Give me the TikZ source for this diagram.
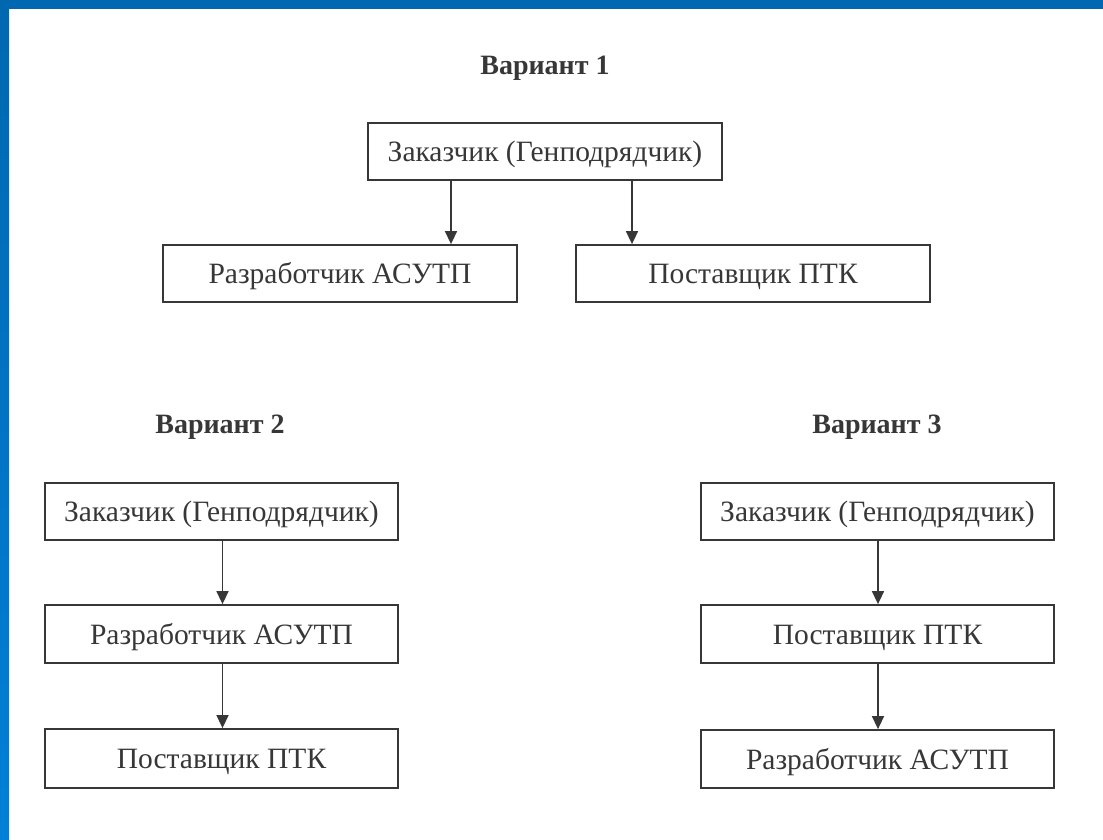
\documentclass[tikz,border=0pt]{standalone}
\usepackage{fontspec}
\setmainfont{Liberation Serif}
\usetikzlibrary{arrows.meta,calc}
\definecolor{frameblue}{RGB}{0,104,176}
\definecolor{framelight}{RGB}{0,128,216}
\definecolor{ink}{RGB}{55,55,55}
\tikzset{
  unitbox/.style={draw=ink, line width=1.8pt, fill=white, text=ink, inner sep=0pt,
    text height=20pt, text depth=0pt,
    font=\fontsize{29.5}{33}\selectfont},
  heading/.style={text=ink, font=\fontsize{28}{32}\selectfont\bfseries, inner sep=0pt,
    text height=18pt, text depth=0pt},
  link/.style={draw=ink, line width=1.5pt, -{Triangle[length=13pt,width=12pt]}}
}
% place a box from its top-left and bottom-right corners (pixel grid, y downwards)
\newcommand{\unit}[6]{%
  \node[unitbox, minimum width={#4-#2}, minimum height={#5-#3}]
    (#1) at ({(#2+#4)/2},{(#3+#5)/2}) {#6};}
\begin{document}
\begin{tikzpicture}[x=1pt,y=-1pt]
  \useasboundingbox (0,0) rectangle (1103,839);
  \fill[white] (0,0) rectangle (1103,839);
  % blue frame
  \shade[top color=frameblue, bottom color=framelight] (0,0) rectangle (9,839);
  \fill[frameblue] (0,0) rectangle (1103,9);

  % ---- Variant 1 ----
  \node[heading] (h1) at (545,65) {Вариант 1};
  \unit{a1}{368}{123}{722}{180}{Заказчик (Генподрядчик)}
  \unit{b1}{163}{245}{517}{302}{Разработчик АСУТП}
  \unit{c1}{576}{245}{930}{302}{Поставщик ПТК}
  \coordinate (p1) at (451,0);
  \coordinate (p2) at (632,0);
  \draw[link] (a1.south -| p1) -- (b1.north -| p1);
  \draw[link] (a1.south -| p2) -- (c1.north -| p2);

  % ---- Variant 2 ----
  \node[heading] (h2) at (220,424) {Вариант 2};
  \unit{a2}{45}{483}{398}{540}{Заказчик (Генподрядчик)}
  \unit{b2}{45}{605}{398}{663}{Разработчик АСУТП}
  \unit{c2}{45}{729}{398}{788}{Поставщик ПТК}
  \coordinate (q1) at (222.5,0);
  \draw[link] (a2.south -| q1) -- (b2.north -| q1);
  \draw[link] (b2.south -| q1) -- (c2.north -| q1);

  % ---- Variant 3 ----
  \node[heading] (h3) at (877,424) {Вариант 3};
  \unit{a3}{701}{483}{1054}{540}{Заказчик (Генподрядчик)}
  \unit{b3}{701}{605}{1054}{663}{Поставщик ПТК}
  \unit{c3}{701}{730}{1054}{788}{Разработчик АСУТП}
  \coordinate (r1) at (878,0);
  \draw[link] (a3.south -| r1) -- (b3.north -| r1);
  \draw[link] (b3.south -| r1) -- (c3.north -| r1);
\end{tikzpicture}
\end{document}
